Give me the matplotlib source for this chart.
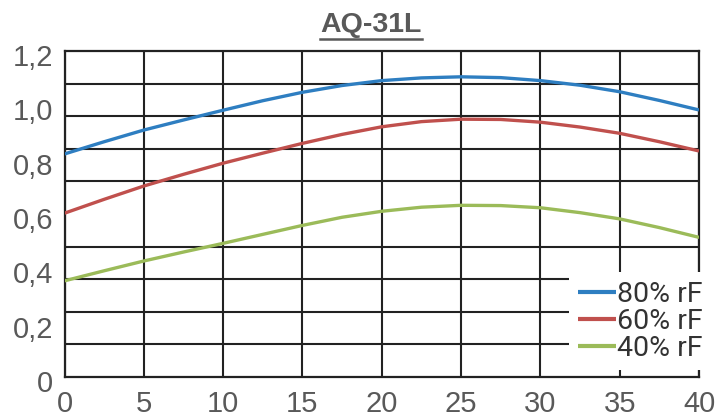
# AQ-31L capacity chart
import numpy as np
import matplotlib.pyplot as plt
from matplotlib.lines import Line2D
from matplotlib.transforms import ScaledTranslation

# data
temps = [0, 2.5, 5, 7.5, 10, 12.5, 15, 17.5, 20, 22.5, 25, 27.5, 30, 32.5, 35, 37.5, 40]
rf80 = [0.821, 0.866, 0.909, 0.946, 0.982, 1.017, 1.048, 1.073, 1.091, 1.101, 1.105,
        1.102, 1.091, 1.074, 1.050, 1.018, 0.983]
rf60 = [0.603, 0.654, 0.703, 0.746, 0.787, 0.824, 0.860, 0.893, 0.921, 0.940, 0.949,
        0.948, 0.938, 0.920, 0.897, 0.866, 0.832]
rf40 = [0.354, 0.391, 0.427, 0.460, 0.492, 0.525, 0.558, 0.588, 0.610, 0.625, 0.632,
        0.631, 0.623, 0.605, 0.582, 0.550, 0.514]
series_labels = ['80% rF', '60% rF', '40% rF']
colors = ['#2e7ec1', '#c0504d', '#9bbb59']
x_ticks = [0, 5, 10, 15, 20, 25, 30, 35, 40]
y_ticks = [0, 0.2, 0.4, 0.6, 0.8, 1.0, 1.2]
y_tick_labels = ['0', '0,2', '0,4', '0,6', '0,8', '1,0', '1,2']
title = 'AQ-31L'

text_gray = '#595959'
grid_col = '#222222'

fig = plt.figure(figsize=(7.17, 4.18), dpi=100)
ax = fig.add_axes([64.5 / 717, 41 / 418, 634.5 / 717, 326 / 418])

for vals, lab, col in zip([rf80, rf60, rf40], series_labels, colors):
    ax.plot(temps, vals, color=col, lw=2.4, label=lab, solid_capstyle='butt', zorder=3)

ax.set_xlim(0, 40)
ax.set_ylim(0, 1.2)
ax.set_xticks(x_ticks)
ax.set_yticks(y_ticks)
ax.set_yticklabels(y_tick_labels)
# gridlines split the y range in 10 steps, labels in 6
ax.set_yticks(np.linspace(0, 1.2, 11), minor=True)
ax.grid(True, axis='x', which='major', color=grid_col, lw=1.5)
ax.grid(True, axis='y', which='minor', color=grid_col, lw=1.5)
ax.grid(False, axis='y', which='major')
ax.set_axisbelow(True)

ax.tick_params(which='both', length=0)
ax.tick_params(axis='y', pad=8, labelsize=21, labelcolor=text_gray)
ax.tick_params(axis='x', pad=9.5, labelsize=21, labelcolor=text_gray)
for lab in ax.get_xticklabels() + ax.get_yticklabels():
    lab.set_family('Liberation Sans')
for lab in ax.get_yticklabels():
    lab.set_transform(lab.get_transform() + ScaledTranslation(0, -0.04, fig.dpi_scale_trans))

for sp in ax.spines.values():
    sp.set_color(grid_col)
    sp.set_linewidth(1.6)

leg = ax.legend(loc='upper left', bbox_to_anchor=(569 / 717, 1 - 272 / 418),
                bbox_transform=fig.transFigure, frameon=True, fancybox=False,
                framealpha=1, facecolor='white', edgecolor='none',
                prop={'family': ['Liberation Sans Narrow', 'Roboto'], 'size': 20.5},
                handlelength=1.35, handletextpad=0.05, labelspacing=0.0,
                borderpad=0.3, borderaxespad=0)
for t in leg.get_texts():
    t.set_color('#333333')
for h in leg.get_lines():
    h.set_linewidth(3)

ttl = fig.text(371 / 717, 1 - 25 / 418, title, ha='center', va='center', fontsize=20.5,
               fontweight='bold', color=text_gray, family='Liberation Sans')
fig.canvas.draw()
bb = ttl.get_window_extent().transformed(fig.transFigure.inverted())
fig.add_artist(Line2D([bb.x0, bb.x1], [1 - 38.5 / 418] * 2, color=text_gray, lw=1.8,
                      transform=fig.transFigure))

fig.savefig('out.png', dpi=100)
